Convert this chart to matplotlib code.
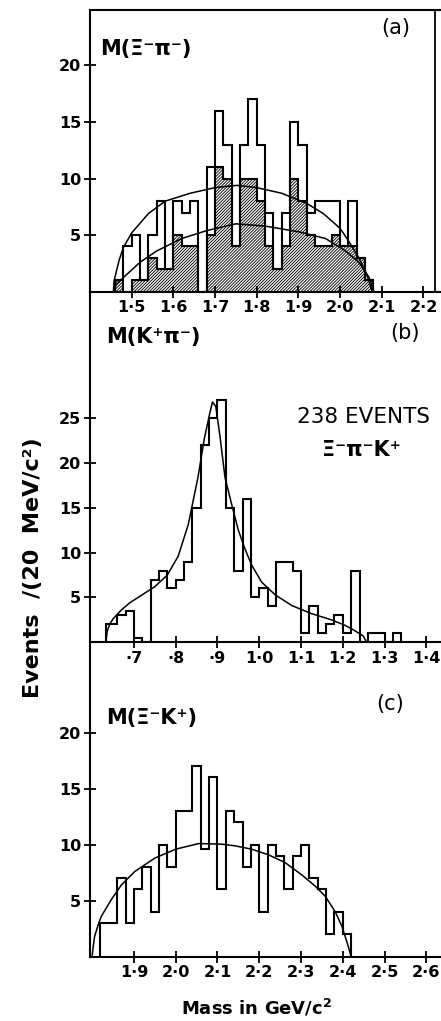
import numpy as np
import matplotlib.pyplot as plt

plt.rcParams['font.family'] = 'DejaVu Sans'
plt.rcParams['font.weight'] = 'bold'
plt.rcParams['hatch.linewidth'] = 0.9

# (a) M(Xi- pi-): open = all events, hatched = subsample, bins of 20 MeV from 1.46
a_start = 1.46
a_open = [1, 4, 5, 1, 5, 8, 2, 8, 7, 8, 0, 11, 16, 13, 4, 13, 17, 13, 7, 2,
          7, 15, 13, 7, 8, 8, 8, 4, 8, 3, 1]
a_hatch = [1, 0, 1, 1, 3, 2, 2, 5, 4, 4, 0, 5, 11, 10, 4, 10, 10, 8, 4, 2,
           4, 10, 8, 5, 4, 4, 5, 4, 4, 3, 1]
a_up_x = [1.456, 1.458, 1.464, 1.47, 1.48, 1.50, 1.54, 1.58, 1.64, 1.70, 1.753,
          1.80, 1.86, 1.92, 1.96, 2.00, 2.02, 2.045, 2.065, 2.077]
a_up_y = [0, 1.0, 1.9, 2.8, 3.9, 5.2, 6.9, 8.0, 8.7, 9.2, 9.4,
          9.2, 8.7, 7.8, 6.9, 5.6, 4.5, 3.0, 1.4, 0]
a_lo_x = [1.458, 1.462, 1.48, 1.52, 1.56, 1.62, 1.68, 1.75, 1.82, 1.90,
          1.965, 2.013, 2.045, 2.069, 2.081]
a_lo_y = [0, 0.6, 1.25, 2.6, 3.6, 4.7, 5.4, 6.0, 5.8, 5.3,
          4.7, 3.6, 2.6, 1.3, 0]

# (b) M(K+ pi-), first bin starts at threshold
b_edges = [0.633] + [round(0.64 + 0.02 * i, 2) for i in range(36)]
b_counts = [2, 2, 3, 3.5, 0.5, 0, 7, 8, 6, 7, 9, 15, 22, 25, 27, 15, 8, 16, 5,
            6, 4, 9, 9, 8, 1, 4, 1, 2, 3, 1, 8, 0, 1, 1, 0, 1]
b_fit_x = [0.633, 0.636, 0.642, 0.65, 0.67, 0.69, 0.72, 0.75, 0.78, 0.806, 0.83,
           0.853, 0.869, 0.881, 0.888, 0.896, 0.906, 0.918, 0.934, 0.95, 0.966,
           0.982, 1.006, 1.038, 1.078, 1.125, 1.173, 1.205, 1.225, 1.249, 1.257]
b_fit_y = [0, 1.2, 2.0, 2.6, 3.6, 4.4, 5.3, 6.2, 7.5, 9.6, 13.1,
           18.3, 22.8, 25.4, 26.8, 26.3, 23.0, 18.4, 15.4, 12.5, 10.4,
           8.6, 6.7, 5.3, 4.1, 3.2, 2.5, 1.9, 1.4, 0.7, 0]

# (c) M(Xi- K+)
c_start = 1.82
c_counts = [3, 3, 7, 3, 6, 8, 4, 10, 8, 13, 13, 17, 9.6, 16, 6, 13, 12, 8, 10,
            4, 10, 9, 6, 9, 10, 7, 6, 2, 4, 2]
c_fit_x = [1.80, 1.803, 1.806, 1.815, 1.822, 1.846, 1.87, 1.902, 1.95, 2.00,
           2.055, 2.11, 2.142, 2.182, 2.222, 2.262, 2.302, 2.334, 2.358, 2.382,
           2.398, 2.41, 2.42]
c_fit_y = [0, 1.0, 1.8, 2.9, 3.6, 5.1, 6.4, 7.6, 8.8, 9.6,
           10.1, 10.05, 9.9, 9.6, 9.1, 8.4, 7.3, 6.3, 5.4, 4.0,
           2.7, 1.3, 0]

a_ticks = [1.5, 1.6, 1.7, 1.8, 1.9, 2.0, 2.1, 2.2]
a_labels = ['1·5', '1·6', '1·7', '1·8', '1·9', '2·0', '2·1', '2·2']
b_ticks = [0.7, 0.8, 0.9, 1.0, 1.1, 1.2, 1.3, 1.4]
b_labels = ['·7', '·8', '·9', '1·0', '1·1', '1·2', '1·3', '1·4']
c_ticks = [1.9, 2.0, 2.1, 2.2, 2.3, 2.4, 2.5, 2.6]
c_labels = ['1·9', '2·0', '2·1', '2·2', '2·3', '2·4', '2·5', '2·6']

W, H = 441, 1021
fig = plt.figure(figsize=(W / 100, H / 100), dpi=100)


def rect(x0, y0, x1, y1):
    return [x0 / W, 1 - y1 / H, (x1 - x0) / W, (y1 - y0) / H]


ax_a = fig.add_axes(rect(90, 10, 441, 291.7))
ax_b = fig.add_axes(rect(90, 291.7, 441, 642.3))
ax_c = fig.add_axes(rect(90, 642.3, 441, 956.7))

lw_h = 1.5
lw_f = 1.1

# panel a
ea = np.round(a_start + 0.02 * np.arange(len(a_open) + 1), 2)
ax_a.stairs(a_hatch, ea, baseline=0, fill=True, facecolor='black',
            edgecolor='white', hatch='/' * 11, linewidth=0)
ax_a.stairs(a_hatch, ea, baseline=0, color='black', linewidth=lw_h)
ax_a.stairs(a_open, ea, baseline=0, color='black', linewidth=lw_h)
ax_a.plot(a_up_x, a_up_y, color='black', linewidth=lw_f)
ax_a.plot(a_lo_x, a_lo_y, color='black', linewidth=lw_f)
ax_a.set_xlim(1.40, 2.242)
ax_a.set_ylim(0, 24.9)
ax_a.set_xticks(a_ticks, a_labels)
ax_a.set_yticks([5, 10, 15, 20])

# panel b
ax_b.stairs(b_counts, b_edges, baseline=0, color='black', linewidth=lw_h)
ax_b.plot(b_fit_x, b_fit_y, color='black', linewidth=lw_f)
ax_b.set_xlim(0.595, 1.435)
ax_b.set_ylim(0, 39.1)
ax_b.set_xticks(b_ticks, b_labels)
ax_b.set_yticks([5, 10, 15, 20, 25])

# panel c
ec = np.round(c_start + 0.02 * np.arange(len(c_counts) + 1), 2)
ax_c.stairs(c_counts, ec, baseline=0, color='black', linewidth=lw_h)
ax_c.plot(c_fit_x, c_fit_y, color='black', linewidth=lw_f)
ax_c.set_xlim(1.795, 2.635)
ax_c.set_ylim(0, 28.07)
ax_c.set_xticks(c_ticks, c_labels)
ax_c.set_yticks([5, 10, 15, 20])

for ax in (ax_a, ax_b, ax_c):
    ax.patch.set_alpha(0)
    for s in ('top', 'right'):
        ax.spines[s].set_visible(False)
    for s in ('left', 'bottom'):
        ax.spines[s].set_linewidth(1.5)
    ax.tick_params(direction='inout', length=8.5, width=1.3, labelsize=11.5, pad=2)

ax_a.spines['top'].set_visible(True)
ax_a.spines['top'].set_linewidth(1.5)
ax_a.spines['right'].set_visible(True)
ax_a.spines['right'].set_linewidth(1.3)
ax_a.spines['right'].set_position(('data', 2.228))

# panel texts
ax_a.text(0.03, 0.84, 'M(Ξ⁻π⁻)', transform=ax_a.transAxes, fontsize=15)
ax_a.text(0.83, 0.915, '(a)', transform=ax_a.transAxes, fontsize=15,
          fontweight='normal')
ax_b.text(0.045, 0.855, 'M(K⁺π⁻)', transform=ax_b.transAxes, fontsize=15)
ax_b.text(0.855, 0.865, '(b)', transform=ax_b.transAxes, fontsize=15,
          fontweight='normal')
ax_b.text(0.59, 0.625, '238 EVENTS', transform=ax_b.transAxes, fontsize=15.5,
          fontweight='normal')
ax_b.text(0.66, 0.53, 'Ξ⁻π⁻K⁺', transform=ax_b.transAxes, fontsize=15)
ax_c.text(0.045, 0.74, 'M(Ξ⁻K⁺)', transform=ax_c.transAxes, fontsize=15)
ax_c.text(0.815, 0.785, '(c)', transform=ax_c.transAxes, fontsize=15,
          fontweight='normal')

fig.text(33 / W, 1 - 568 / H, 'Events  /(20  MeV/c²)', rotation=90,
         ha='center', va='center', fontsize=16)
fig.text(257 / W, 1 - 1008 / H, 'Mass in GeV/c$^{2}$', ha='center',
         va='center', fontsize=13)

fig.savefig('out.png', dpi=100)
